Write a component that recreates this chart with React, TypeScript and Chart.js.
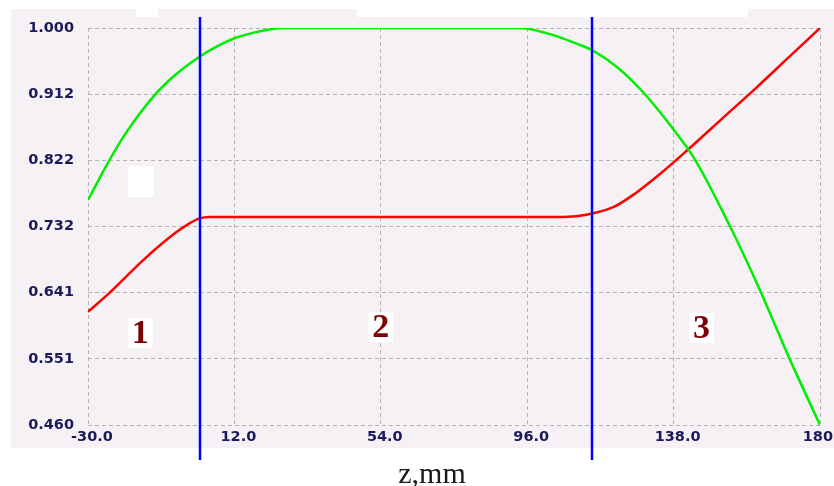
import React, { useEffect, useRef } from "react";
import { Chart, registerables } from "chart.js";

Chart.register(...registerables);

const xTicks = [-30, 12, 54, 96, 138, 180];
const xTickLabels = ["-30.0", "12.0", "54.0", "96.0", "138.0", "180"];
const yTicks = [0.46, 0.55, 0.64, 0.73, 0.82, 0.91, 1.0];
const yTickLabels = ["0.460", "0.551", "0.641", "0.732", "0.822", "0.912", "1.000"];

const greenZ = [-30, -24, -19, -11, -5, 2, 7, 12, 17, 22, 26, 60, 94, 100, 105, 110, 115, 122, 129, 137, 144, 154, 163, 171, 180];
const greenV = [0.766, 0.819, 0.858, 0.908, 0.936, 0.961, 0.975, 0.986, 0.993, 0.998, 1.0, 1.0, 1.0, 0.995, 0.988, 0.979, 0.969, 0.946, 0.914, 0.868, 0.822, 0.732, 0.641, 0.553, 0.46];

const redZ = [-30, -24, -14, -5, -1, 2, 5, 30, 60, 90, 105, 110, 115, 121, 127, 134, 142, 152, 162, 171, 180];
const redV = [0.614, 0.639, 0.685, 0.721, 0.734, 0.741, 0.743, 0.743, 0.743, 0.743, 0.743, 0.744, 0.748, 0.757, 0.775, 0.801, 0.834, 0.877, 0.92, 0.96, 1.0];

const boundaryZ = [2.1, 114.7];
const zoneLabels = ["1", "2", "3"];
const zoneZ = [-15, 54, 146];
const zoneV = [0.585, 0.593, 0.592];

const axisTitle = "z,mm";

const TICK_COLOR = "#1a1a5a";
const TICK_FONT = "bold 14.5px 'DejaVu Sans', Verdana, sans-serif";

const decorPlugin = {
  id: "decor",
  beforeDraw(chart: any) {
    const ctx = chart.ctx;
    ctx.save();
    ctx.fillStyle = "#ffffff";
    ctx.fillRect(0, 0, chart.width, chart.height);
    ctx.fillStyle = "#f5f1f5";
    ctx.fillRect(11, 9, chart.width - 11, 439);
    ctx.fillStyle = "#ffffff";
    ctx.fillRect(136, 9, 22, 8);
    ctx.fillRect(357, 9, 391, 8);
    ctx.fillRect(128, 166, 26, 31);
    ctx.restore();
  },
  afterDatasetsDraw(chart: any) {
    const ctx = chart.ctx;
    const xs = chart.scales.x;
    const ys = chart.scales.y;
    const area = chart.chartArea;
    ctx.save();
    ctx.strokeStyle = "#0000ff";
    ctx.lineWidth = 2.5;
    boundaryZ.forEach((z) => {
      const px = Math.round(xs.getPixelForValue(z));
      ctx.beginPath();
      ctx.moveTo(px, area.top - 11);
      ctx.lineTo(px, area.bottom + 35);
      ctx.stroke();
    });
    ctx.font = "bold 34px 'Liberation Serif', 'Times New Roman', serif";
    ctx.textAlign = "center";
    ctx.textBaseline = "middle";
    zoneLabels.forEach((t, i) => {
      const px = xs.getPixelForValue(zoneZ[i]);
      const py = ys.getPixelForValue(zoneV[i]);
      const w = ctx.measureText(t).width + 8;
      ctx.fillStyle = "#ffffff";
      ctx.fillRect(px - w / 2, py - 15, w, 30);
      ctx.fillStyle = "#7f0000";
      ctx.fillText(t, px, py + 1);
    });
    ctx.restore();
  },
  afterDraw(chart: any) {
    const ctx = chart.ctx;
    const xs = chart.scales.x;
    const ys = chart.scales.y;
    const area = chart.chartArea;
    ctx.save();
    ctx.fillStyle = TICK_COLOR;
    ctx.font = TICK_FONT;
    ctx.textBaseline = "middle";
    ctx.textAlign = "right";
    yTicks.forEach((v, i) => {
      ctx.fillText(yTickLabels[i], area.left - 14, ys.getPixelForValue(v));
    });
    ctx.textAlign = "center";
    xTicks.forEach((v, i) => {
      const label = xTickLabels[i];
      const half = ctx.measureText(label).width / 2;
      let cx = xs.getPixelForValue(v) + 4;
      if (cx + half > chart.width - 1) cx = chart.width - 1 - half;
      ctx.fillText(label, cx, area.bottom + 12);
    });
    ctx.fillStyle = "#1a1a1a";
    ctx.font = "30px 'Liberation Serif', 'Times New Roman', serif";
    ctx.fillText(axisTitle, (area.left + area.right) / 2 - 22, area.bottom + 50);
    ctx.restore();
  },
};

export default function App() {
  const ref = useRef<HTMLCanvasElement | null>(null);
  useEffect(() => {
    if (!ref.current) return;
    const chart = new Chart(ref.current, {
      type: "line",
      data: {
        datasets: [
          {
            data: greenZ.map((z, i) => ({ x: z, y: greenV[i] })),
            borderColor: "#00ee00",
            borderWidth: 2.5,
            pointRadius: 0,
            fill: false,
            cubicInterpolationMode: "monotone",
          },
          {
            data: redZ.map((z, i) => ({ x: z, y: redV[i] })),
            borderColor: "#ff0000",
            borderWidth: 2.5,
            pointRadius: 0,
            fill: false,
            cubicInterpolationMode: "monotone",
          },
        ],
      },
      options: {
        animation: false,
        responsive: false,
        devicePixelRatio: 1,
        layout: { padding: { top: 28, right: 14, left: 0, bottom: 0 } },
        plugins: { legend: { display: false }, tooltip: { enabled: false } },
        scales: {
          x: {
            type: "linear",
            min: -30,
            max: 180,
            afterBuildTicks: (s: any) => {
              s.ticks = xTicks.map((v) => ({ value: v }));
            },
            afterFit: (s: any) => {
              s.height = 61;
            },
            ticks: { display: false },
            grid: { color: "#b4b4b4", lineWidth: 1, drawTicks: false },
            border: { display: false, dash: [4, 3] },
          },
          y: {
            type: "linear",
            min: 0.46,
            max: 1.0,
            afterBuildTicks: (s: any) => {
              s.ticks = yTicks.map((v) => ({ value: v }));
            },
            afterFit: (s: any) => {
              s.width = 88;
            },
            ticks: { display: false },
            grid: { color: "#b4b4b4", lineWidth: 1, drawTicks: false },
            border: { display: false, dash: [4, 3] },
          },
        },
      } as any,
      plugins: [decorPlugin],
    });
    return () => chart.destroy();
  }, []);
  return (
    <div style={{ position: "fixed", left: 0, top: 0, width: 834, height: 486, overflow: "hidden" }}>
      <canvas
        ref={ref}
        width={834}
        height={486}
        style={{ display: "block", width: 834, height: 486 }}
      />
    </div>
  );
}
